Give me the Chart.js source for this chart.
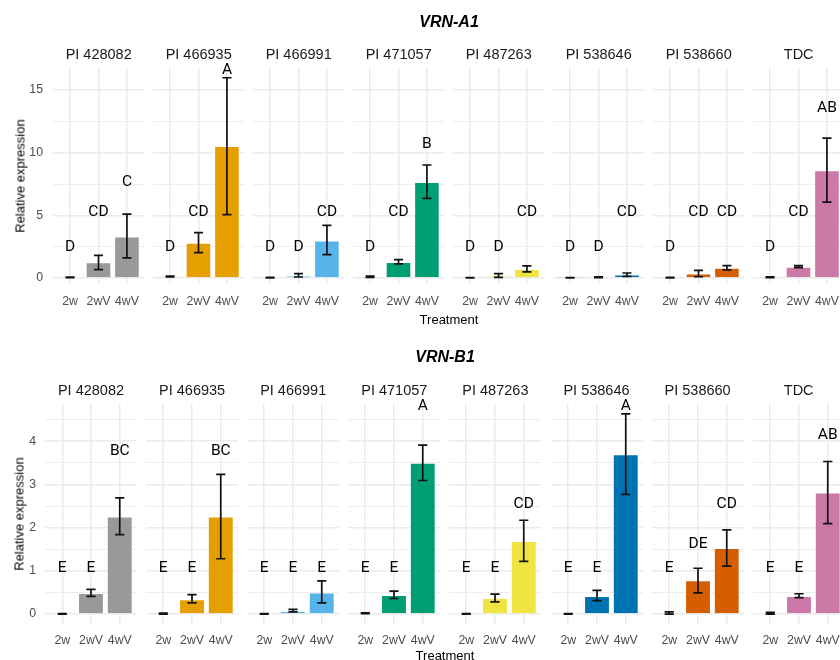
<!DOCTYPE html>
<html>
<head>
<meta charset="utf-8">
<script src="https://cdn.jsdelivr.net/npm/chart.js@4.4.1/dist/chart.umd.min.js"></script>
<style>
  body { margin: 0; background: #fff; width: 840px; height: 660px; overflow: hidden; position: relative;
         font-family: "Liberation Sans", Arial, sans-serif; }
  canvas { position: absolute; }
  .lbl { position: absolute; transform: translate(-50%, -50%); white-space: nowrap; line-height: 1; color: #1a1a1a; }
  .title { font-size: 16px; font-weight: bold; font-style: italic; color: #000; }
  .strip { font-size: 14.5px; }
  .axt { font-size: 13px; color: #000; }
  .yt { transform: translate(-50%, -50%) rotate(-90deg); }
</style>
</head>
<body>
<script>
// facets and treatments
const accessions = ['PI 428082', 'PI 466935', 'PI 466991', 'PI 471057', 'PI 487263', 'PI 538646', 'PI 538660', 'TDC'];
const treatments = ['2w', '2wV', '4wV'];
const palette = ['#999999', '#E69F00', '#56B4E9', '#009E73', '#F0E442', '#0072B2', '#D55E00', '#CC79A7'];

// VRN-A1: mean, error bar low / high, letters and where they sit
const a1Mean = [[0.05, 1.25, 3.32], [0.12, 2.82, 10.53], [0.03, 0.19, 3.0], [0.1, 1.28, 7.66],
                [0.02, 0.16, 0.72], [0.01, 0.05, 0.27], [0.03, 0.35, 0.82], [0.05, 0.9, 8.59]];
const a1Lo = [[0.03, 0.66, 1.6], [0.08, 2.02, 5.05], [0.01, 0.08, 1.86], [0.05, 1.12, 6.36],
              [0.0, 0.05, 0.48], [0.0, 0.03, 0.13], [0.01, 0.1, 0.64], [0.02, 0.82, 6.06]];
const a1Hi = [[0.08, 1.81, 5.1], [0.15, 3.62, 15.98], [0.05, 0.35, 4.2], [0.16, 1.46, 9.02],
              [0.04, 0.35, 0.96], [0.03, 0.09, 0.4], [0.05, 0.61, 0.98], [0.09, 0.98, 11.17]];
const a1Letters = [['D', 'CD', 'C'], ['D', 'CD', 'A'], ['D', 'D', 'CD'], ['D', 'CD', 'B'],
                   ['D', 'D', 'CD'], ['D', 'D', 'CD'], ['D', 'CD', 'CD'], ['D', 'CD', 'AB']];
const a1LetterY = [[2.47, 5.27, 7.66], [2.47, 5.27, 16.62], [2.47, 2.47, 5.27], [2.47, 5.27, 10.72],
                   [2.47, 2.47, 5.27], [2.47, 2.47, 5.27], [2.47, 5.27, 5.27], [2.47, 5.27, 13.56]];
const a1Major = [0, 5, 10, 15];
const a1Minor = [2.5, 7.5, 12.5];

// VRN-B1
const b1Mean = [[0.0, 0.49, 2.26], [0.01, 0.34, 2.26], [0.0, 0.07, 0.5], [0.02, 0.44, 3.5],
                [0.0, 0.37, 1.69], [0.0, 0.42, 3.7], [0.03, 0.78, 1.53], [0.02, 0.42, 2.81]];
const b1Lo = [[0.0, 0.41, 1.84], [0.0, 0.26, 1.28], [0.0, 0.05, 0.26], [0.01, 0.36, 3.09],
              [0.0, 0.28, 1.22], [0.0, 0.31, 2.77], [0.0, 0.49, 1.11], [0.0, 0.38, 2.09]];
const b1Hi = [[0.01, 0.57, 2.69], [0.02, 0.45, 3.23], [0.01, 0.11, 0.77], [0.03, 0.53, 3.91],
              [0.01, 0.46, 2.17], [0.01, 0.55, 4.63], [0.05, 1.06, 1.95], [0.04, 0.47, 3.53]];
const b1Letters = [['E', 'E', 'BC'], ['E', 'E', 'BC'], ['E', 'E', 'E'], ['E', 'E', 'A'],
                   ['E', 'E', 'CD'], ['E', 'E', 'A'], ['E', 'DE', 'CD'], ['E', 'E', 'AB']];
const b1LetterY = [[1.07, 1.07, 3.76], [1.07, 1.07, 3.76], [1.07, 1.07, 1.07], [1.07, 1.07, 4.81],
                   [1.07, 1.07, 2.54], [1.07, 1.07, 4.81], [1.07, 1.62, 2.54], [1.07, 1.07, 4.15]];
const b1Major = [0, 1, 2, 3, 4];
const b1Minor = [0.5, 1.5, 2.5, 3.5, 4.5];

Chart.defaults.font.family = "'Liberation Sans', Arial, sans-serif";

const rows = [
  { gene: 'VRN-A1', mean: a1Mean, lo: a1Lo, hi: a1Hi, letters: a1Letters, letterY: a1LetterY,
    major: a1Major, minor: a1Minor, yMin: -0.4, yMax: 16.76,
    top: 68, bottom: 283, left0: 53.2, pitch: 100, w: 91, xPad: 11, yPad: 10,
    titleX: 449, titleY: 21.7, stripY: 54, axisY: 319, yTitleX: 19.5 },
  { gene: 'VRN-B1', mean: b1Mean, lo: b1Lo, hi: b1Hi, letters: b1Letters, letterY: b1LetterY,
    major: b1Major, minor: b1Minor, yMin: -0.23, yMax: 4.86,
    top: 404, bottom: 623.5, left0: 45, pitch: 101.1, w: 92, xPad: 9, yPad: 9,
    titleX: 445, titleY: 356.7, stripY: 390, axisY: 655, yTitleX: 18.5 }
];

const padTop = 16, xAxisH = 30, yAxisW = 30;

// error bars + letter groups
const errPlugin = {
  id: 'errbars',
  afterDatasetsDraw(chart) {
    const ds = chart.data.datasets[0];
    const xs = chart.scales.x, ys = chart.scales.y, c = chart.ctx;
    const hw = xs.getPixelForValue(1.16) - xs.getPixelForValue(1);
    c.save();
    c.strokeStyle = '#111';
    c.lineWidth = 1.7;
    ds.lo.forEach((lo, j) => {
      const x = xs.getPixelForValue(j + 1);
      const y1 = ys.getPixelForValue(lo), y2 = ys.getPixelForValue(ds.hi[j]);
      c.beginPath();
      c.moveTo(x, y1); c.lineTo(x, y2);
      c.moveTo(x - hw, y1); c.lineTo(x + hw, y1);
      c.moveTo(x - hw, y2); c.lineTo(x + hw, y2);
      c.stroke();
    });
    c.fillStyle = '#000';
    c.font = '15.5px Roboto';
    c.textAlign = 'center';
    c.textBaseline = 'middle';
    ds.letters.forEach((t, j) => c.fillText(t, xs.getPixelForValue(j + 1), ys.getPixelForValue(ds.letterY[j])));
    c.restore();
  }
};

function addLabel(text, x, y, cls) {
  const d = document.createElement('div');
  d.className = 'lbl ' + cls;
  d.textContent = text;
  d.style.left = x + 'px';
  d.style.top = y + 'px';
  document.body.appendChild(d);
}

function makePanel(r, k) {
  const first = k === 0;
  const plotLeft = r.left0 + r.pitch * k;
  const cv = document.createElement('canvas');
  const left = Math.round(plotLeft - (first ? yAxisW : 0));
  const width = Math.round(r.w + (first ? yAxisW : 0));
  const top = Math.round(r.top - padTop);
  const height = Math.round(padTop + (r.bottom - r.top) + xAxisH);
  cv.width = width; cv.height = height;
  cv.style.left = left + 'px'; cv.style.top = top + 'px';
  document.body.appendChild(cv);

  const allTicks = r.major.concat(r.minor).sort((a, b) => a - b);

  new Chart(cv, {
    type: 'bar',
    data: {
      datasets: [{
        data: r.mean[k].map((v, j) => ({ x: j + 1, y: v })),
        backgroundColor: palette[k],
        borderColor: 'rgba(255,255,255,0.6)',
        borderWidth: 1,
        lo: r.lo[k], hi: r.hi[k], letters: r.letters[k], letterY: r.letterY[k]
      }]
    },
    options: {
      responsive: false,
      animation: false,
      devicePixelRatio: 1,
      datasets: { bar: { barPercentage: 1, categoryPercentage: 0.9 } },
      layout: { padding: { top: padTop, left: 0, right: 0, bottom: 0 } },
      plugins: { legend: { display: false }, tooltip: { enabled: false } },
      scales: {
        x: {
          type: 'linear', min: 0.4, max: 3.6, offset: false,
          afterBuildTicks: s => { s.ticks = [1, 2, 3].map(v => ({ value: v })); },
          afterFit: s => { s.height = xAxisH; s.paddingLeft = 0; s.paddingRight = 0; },
          grid: { color: '#ebebeb', lineWidth: 1.5, drawTicks: false, offset: false },
          border: { display: false },
          ticks: { padding: r.xPad, color: '#4d4d4d', font: { size: 12.3 }, autoSkip: false, maxRotation: 0,
                   callback: v => treatments[v - 1] }
        },
        y: {
          min: r.yMin, max: r.yMax,
          afterBuildTicks: s => { s.ticks = allTicks.map(v => ({ value: v })); },
          afterFit: s => { s.width = first ? yAxisW : 0; s.paddingTop = 0; s.paddingBottom = 0; },
          grid: { color: '#ebebeb', drawTicks: false,
                  lineWidth: ctx => (ctx.tick && r.major.includes(ctx.tick.value)) ? 1.5 : 0.9 },
          border: { display: false },
          ticks: { display: first, padding: r.yPad, color: '#4d4d4d', font: { size: 12.3 },
                   callback: v => r.major.includes(v) ? String(v) : '' }
        }
      }
    },
    plugins: [errPlugin]
  });

  addLabel(accessions[k], plotLeft + r.w / 2, r.stripY, 'strip');
}

rows.forEach(r => {
  accessions.forEach((a, k) => makePanel(r, k));
  addLabel(r.gene, r.titleX, r.titleY, 'title');
  addLabel('Treatment', r.titleX, r.axisY, 'axt');
  addLabel('Relative expression', r.yTitleX, (r.top + r.bottom) / 2, 'axt yt');
});
</script>
</body>
</html>
